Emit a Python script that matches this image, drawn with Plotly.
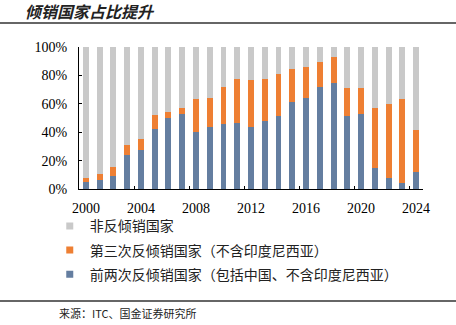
import plotly.graph_objects as go

years = list(range(2000, 2025))
# 前两次反倾销国家 (blue, bottom segment), %
first_two = [5.2, 6.1, 9.4, 24.2, 27.5, 42.5, 50.2, 53.0, 40.1, 43.7, 45.5, 46.2, 43.7,
             48.1, 51.2, 61.5, 64.1, 71.8, 74.9, 51.2, 53.0, 14.6, 8.0, 4.5, 12.2]
# 第三次反倾销国家 (orange, middle segment), %
third = [2.8, 4.2, 6.1, 6.8, 7.7, 9.6, 4.3, 4.3, 23.0, 20.6, 26.3, 31.5, 33.1,
         29.6, 30.0, 23.2, 22.1, 17.9, 18.1, 19.7, 17.9, 42.7, 51.9, 58.6, 29.6]
# 非反倾销国家 (gray, top segment), %
non = [92.0, 89.7, 84.5, 69.0, 64.8, 47.9, 45.5, 42.7, 36.9, 35.7, 28.2, 22.3, 23.2,
       22.3, 18.8, 15.3, 13.8, 10.3, 7.0, 29.1, 29.1, 42.7, 40.1, 36.9, 58.2]

label_years = [2000, 2004, 2008, 2012, 2016, 2020, 2024]
boundary_ticks = [2003.5, 2007.5, 2011.5, 2015.5, 2019.5, 2023.5]
y_ticks = [0, 20, 40, 60, 80, 100]
y_labels = ["0%", "20%", "40%", "60%", "80%", "100%"]

names = ["非反倾销国家", "第三次反倾销国家（不含印度尼西亚）", "前两次反倾销国家（包括中国、不含印度尼西亚）"]
C_GRAY, C_ORANGE, C_BLUE = "#C9C9C9", "#EE7F33", "#647EA0"

fig = go.Figure()
for vals, col in [(first_two, C_BLUE), (third, C_ORANGE), (non, C_GRAY)]:
    fig.add_trace(go.Bar(x=years, y=vals, marker=dict(color=col, line=dict(width=0)),
                         width=0.43, showlegend=False))

# legend entries (small square symbols)
for nm, col in zip(names, [C_GRAY, C_ORANGE, C_BLUE]):
    fig.add_trace(go.Scatter(x=[None], y=[None], mode="markers", name=nm, legendgroup=nm,
                             marker=dict(symbol="square", size=7, color=col)))

fig.update_layout(
    width=456, height=325,
    margin=dict(l=79, r=33, t=47, b=136),
    paper_bgcolor="white", plot_bgcolor="white",
    barmode="stack",
    showlegend=True,
    legend=dict(x=-0.085, y=-0.15, xanchor="left", yanchor="top",
                traceorder="grouped", tracegroupgap=3,
                font=dict(family="Noto Sans CJK SC", size=14, color="#222"),
                bgcolor="rgba(0,0,0,0)"),
    xaxis=dict(range=[1999.5, 2024.5], tickmode="array", tickvals=label_years,
               ticktext=[str(y) for y in label_years], ticks="", ticklabelstandoff=6,
               showline=True, linecolor="#000", linewidth=1, showgrid=False, zeroline=False,
               tickfont=dict(family="Liberation Serif", size=14, color="#000"),
               minor=dict(tickmode="array", tickvals=boundary_ticks, ticks="inside",
                          ticklen=3, tickcolor="#000", showgrid=False)),
    yaxis=dict(range=[0, 100], tickmode="array", tickvals=y_ticks, ticktext=y_labels,
               ticks="inside", ticklen=3, tickcolor="#000", ticklabelstandoff=8,
               showline=True, linecolor="#000", linewidth=1, showgrid=False, zeroline=False,
               tickfont=dict(family="Liberation Serif", size=14, color="#000")),
    font=dict(family="Noto Sans CJK SC"),
)

fig.add_annotation(text="<b><i>倾销国家占比提升</i></b>", xref="paper", yref="paper",
                   x=(23 - 79) / 344, y=(189 - 11) / 142, xanchor="left", yanchor="middle",
                   showarrow=False, font=dict(family="Noto Sans CJK SC", size=16, color="#222"))
fig.add_annotation(text="来源：ITC、国金证券研究所", xref="paper", yref="paper",
                   x=(57 - 79) / 344, y=(189 - 313) / 142, xanchor="left", yanchor="middle",
                   showarrow=False, font=dict(family="Noto Sans CJK SC", size=11, color="#222"))

for ypx in [23, 301]:
    fig.add_shape(type="line", xref="paper", yref="paper",
                  x0=-79 / 344, x1=(456 - 79) / 344,
                  y0=(189 - ypx) / 142, y1=(189 - ypx) / 142,
                  line=dict(color="#333", width=1.5))

fig.write_html("out.html")
